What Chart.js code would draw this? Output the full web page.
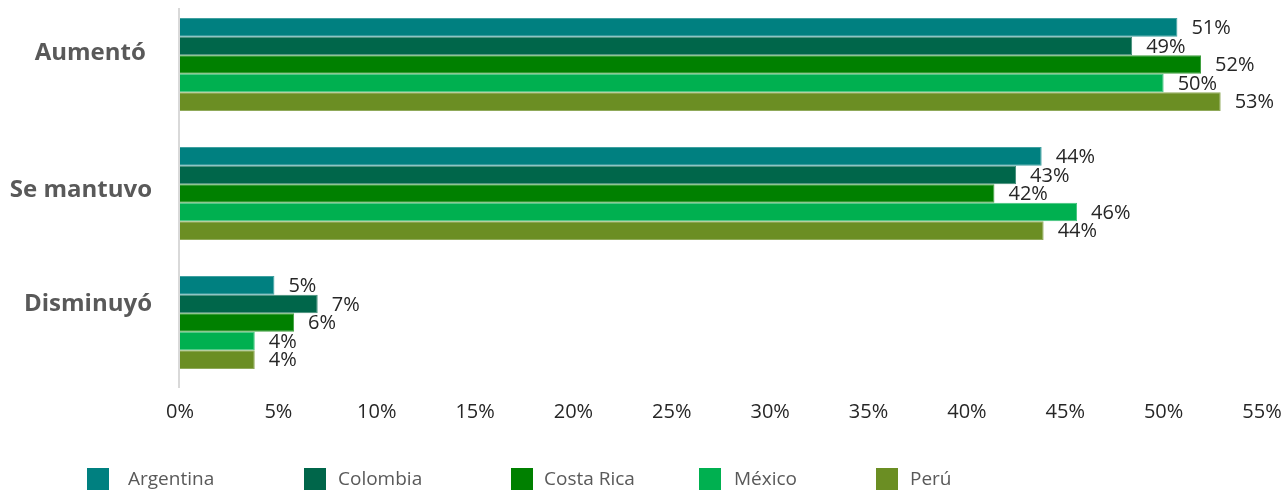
<!DOCTYPE html>
<html>
<head>
<meta charset="utf-8">
<script src="https://cdn.jsdelivr.net/npm/chart.js@4.4.1/dist/chart.umd.min.js"></script>
<style>
html,body{margin:0;padding:0;background:#fff;}
#wrap{width:1284px;height:492px;position:relative;}
</style>
</head>
<body>
<div id="wrap"><canvas id="c" width="1284" height="492"></canvas></div>
<script>
const categories = ["Aumentó ", "Se mantuvo", "Disminuyó"];
const seriesNames = ["Argentina", "Colombia", "Costa Rica", "México", "Perú"];
const argentina = [50.7, 43.8, 4.8];
const colombia = [48.4, 42.5, 7.0];
const costaRica = [51.9, 41.4, 5.8];
const mexico = [50.0, 45.6, 3.8];
const peru = [52.9, 43.9, 3.8];
const argentinaLabels = ["51%", "44%", "5%"];
const colombiaLabels = ["49%", "43%", "7%"];
const costaRicaLabels = ["52%", "42%", "6%"];
const mexicoLabels = ["50%", "46%", "4%"];
const peruLabels = ["53%", "44%", "4%"];
const xTicks = [0, 5, 10, 15, 20, 25, 30, 35, 40, 45, 50, 55];

const colors = ["#008080", "#00664a", "#008000", "#00b050", "#6b8e23"];
const borders = ["#40a0a0", "#408c77", "#40a040", "#40c47c", "#90aa5a"];
const values = [argentina, colombia, costaRica, mexico, peru];
const labels = [argentinaLabels, colombiaLabels, costaRicaLabels, mexicoLabels, peruLabels];

const legendBoxX = [87, 304, 511, 699, 876];
const legendTextX = [128, 338, 544, 734, 910];
const categoryLabelShift = [-11, -3, -18];

const FONT = "'Open Sans', 'DejaVu Sans', sans-serif";

const dataLabelPlugin = {
  id: 'dataLabels',
  afterDatasetsDraw(chart) {
    const ctx = chart.ctx;
    ctx.save();
    ctx.font = "20px " + FONT;
    ctx.fillStyle = "#262626";
    ctx.textAlign = "left";
    ctx.textBaseline = "middle";
    chart.data.datasets.forEach((ds, i) => {
      const meta = chart.getDatasetMeta(i);
      meta.data.forEach((bar, j) => {
        ctx.fillText(ds.valueLabels[j], bar.x + 14, bar.y + 1);
      });
    });
    ctx.restore();
  }
};

const categoryLabelPlugin = {
  id: 'categoryLabels',
  afterDraw(chart) {
    const ctx = chart.ctx;
    const ys = chart.scales.y;
    ctx.save();
    ctx.font = "bold 24px " + FONT;
    ctx.fillStyle = "#595959";
    ctx.textAlign = "right";
    ctx.textBaseline = "middle";
    chart.data.labels.forEach((lab, i) => {
      ctx.fillText(lab, 152, ys.getPixelForValue(i) + categoryLabelShift[i]);
    });
    ctx.restore();
  }
};

const axisLinePlugin = {
  id: 'axisLine',
  afterDraw(chart) {
    const ctx = chart.ctx;
    const x = chart.scales.x.getPixelForValue(0) - 1;
    ctx.save();
    ctx.strokeStyle = "#d9d9d9";
    ctx.lineWidth = 2;
    ctx.beginPath();
    ctx.moveTo(x, 8);
    ctx.lineTo(x, chart.chartArea.bottom + 1);
    ctx.stroke();
    ctx.restore();
  }
};

const legendPlugin = {
  id: 'customLegend',
  afterDraw(chart) {
    const ctx = chart.ctx;
    ctx.save();
    ctx.font = "19px " + FONT;
    ctx.textAlign = "left";
    ctx.textBaseline = "middle";
    chart.data.datasets.forEach((ds, i) => {
      ctx.fillStyle = ds.backgroundColor;
      ctx.fillRect(legendBoxX[i], 468, 22, 22);
      ctx.fillStyle = "#595959";
      ctx.fillText(ds.label, legendTextX[i], 480);
    });
    ctx.restore();
  }
};

new Chart(document.getElementById('c'), {
  type: 'bar',
  data: {
    labels: categories,
    datasets: seriesNames.map((name, i) => ({
      label: name,
      data: values[i],
      valueLabels: labels[i],
      backgroundColor: colors[i],
      borderColor: borders[i],
      borderWidth: 1,
      borderSkipped: 'start',
      categoryPercentage: 0.72,
      barPercentage: 1.0
    }))
  },
  options: {
    indexAxis: 'y',
    responsive: false,
    animation: false,
    layout: { padding: { left: 0, right: 22, top: 0, bottom: 0 } },
    plugins: {
      legend: { display: false },
      tooltip: { enabled: false }
    },
    scales: {
      x: {
        min: 0,
        max: 55,
        afterBuildTicks(scale) { scale.ticks = xTicks.map(v => ({ value: v })); },
        afterFit(scale) { scale.height = 105; scale.paddingLeft = 0; scale.paddingRight = 0; },
        grid: { display: false, drawTicks: false },
        border: { display: false },
        ticks: {
          padding: 13,
          color: "#262626",
          font: { family: FONT, size: 20 },
          callback: v => v + "%"
        }
      },
      y: {
        afterFit(scale) { scale.width = 180; scale.paddingTop = 0; scale.paddingBottom = 0; },
        grid: { display: false, drawTicks: false },
        border: { display: false },
        ticks: { display: false }
      }
    }
  },
  plugins: [dataLabelPlugin, categoryLabelPlugin, axisLinePlugin, legendPlugin]
});
</script>
</body>
</html>
